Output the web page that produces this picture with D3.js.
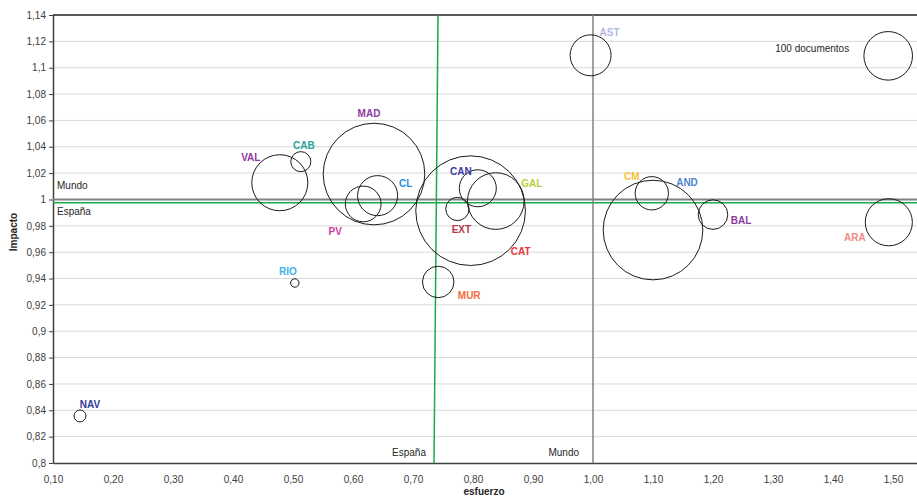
<!DOCTYPE html>
<html><head><meta charset="utf-8">
<script src="https://cdn.jsdelivr.net/npm/d3@7"></script>
<style>body{margin:0;background:#fff}svg{display:block;font-family:"Liberation Sans",Arial,sans-serif}</style>
</head><body>
<svg id="c" width="917" height="503"></svg>
<script>
// ---- data ----
const regions   = ["NAV","RIO","VAL","CAB","MAD","CL","PV","CAT","CAN","GAL","EXT","MUR","AST","CM","AND","BAL","ARA"];
const esfuerzo  = [0.145,0.503,0.478,0.513,0.635,0.641,0.617,0.796,0.808,0.838,0.774,0.742,0.996,1.098,1.100,1.200,1.493];
const impacto   = [0.8357,0.9366,1.0127,1.0287,1.0193,1.0029,0.9966,0.9915,1.0085,0.9988,0.9928,0.9374,1.1094,1.0047,0.9768,0.9885,0.9827];
const documentos= [6,3,133,17,437,68,54,509,58,136,23,42,71,47,420,37,94];
const refBubble = {label:"100 documentos", esfuerzo:1.492, impacto:1.109, documentos:100};
const mundo  = {esfuerzo:1.0, impacto:1.0};
const espana = {esfuerzoTop:0.7417, esfuerzoBottom:0.735, impacto:0.9975};
const xTicks = [0.1,0.2,0.3,0.4,0.5,0.6,0.7,0.8,0.9,1.0,1.1,1.2,1.3,1.4,1.5];
const yTicks = d3.range(0,18).map(i => +(0.8 + i*0.02).toFixed(2));

// ---- styles / layout ----
const labelColors = {NAV:"#2e3a96",RIO:"#3cb4e6",VAL:"#8e3a9e",CAB:"#2aa39b",MAD:"#8e3a9e",CL:"#2a8fd6",PV:"#d23c9e",
  CAT:"#e8363c",CAN:"#3a3d9e",GAL:"#b5cf3a",EXT:"#b83a4a",MUR:"#ef6e3a",AST:"#b4b9e3",CM:"#f5c23a",AND:"#4f86d0",BAL:"#8a3a9e",ARA:"#f28a8a"};
const labelOffsets = {NAV:[10,-11],RIO:[-7,-12],VAL:[-29,-25],CAB:[3,-16],MAD:[-5,-61],CL:[28,-12],PV:[-28,28],CAT:[50,41],
  CAN:[-17,-17],GAL:[36,-18],EXT:[4,21],MUR:[31,14],AST:[19,-23],CM:[-20,-17],AND:[34,-48],BAL:[28,6],ARA:[-34,15]};

const svg = d3.select("#c");
const pL = 53, pR = 917, pT = 15, pB = 463;
const x = d3.scaleLinear().domain([0.1,1.54]).range([pL,pR]);
const y = d3.scaleLinear().domain([0.8,1.14]).range([pB,pT]);
const r = d3.scaleSqrt().domain([0,100]).range([0,24.3]);
const fmtY = d => String(+d.toFixed(2)).replace(".",",");
const fmtX = d => d.toFixed(2).replace(".",",");

// gridlines
svg.append("g").selectAll("line").data(yTicks.filter(d=>d>0.8 && d<1.14)).join("line")
  .attr("x1",pL).attr("x2",pR).attr("y1",d=>y(d)).attr("y2",d=>y(d))
  .attr("stroke","#d9d9d9").attr("stroke-width",1);

// axes
const yAxis = svg.append("g").attr("transform",`translate(${pL},0)`)
  .call(d3.axisLeft(y).tickValues(yTicks).tickFormat(fmtY).tickSize(4).tickSizeOuter(0).tickPadding(3));
yAxis.select(".domain").attr("stroke","#404040").attr("stroke-width",1.5);
yAxis.selectAll(".tick line").attr("stroke","#404040");
yAxis.selectAll("text").attr("font-size",10).attr("fill","#404040").attr("font-family","Liberation Sans, Arial, sans-serif");

const xAxis = svg.append("g").attr("transform",`translate(0,${pB})`)
  .call(d3.axisBottom(x).tickValues(xTicks).tickFormat(fmtX).tickSize(0).tickSizeOuter(0).tickPadding(13));
xAxis.select(".domain").attr("stroke","#404040").attr("stroke-width",1.5);
xAxis.selectAll("text").attr("font-size",10).attr("fill","#404040").attr("font-family","Liberation Sans, Arial, sans-serif");

// top border
svg.append("line").attr("x1",pL).attr("x2",pR).attr("y1",pT).attr("y2",pT).attr("stroke","#222").attr("stroke-width",1.5);

// reference lines
svg.append("line").attr("x1",pL).attr("x2",pR).attr("y1",y(mundo.impacto)).attr("y2",y(mundo.impacto))
  .attr("stroke","#808080").attr("stroke-width",2);
svg.append("line").attr("x1",pL).attr("x2",pR).attr("y1",y(espana.impacto)).attr("y2",y(espana.impacto))
  .attr("stroke","#1aaa4a").attr("stroke-width",1.3);
svg.append("line").attr("x1",x(mundo.esfuerzo)).attr("x2",x(mundo.esfuerzo)).attr("y1",pT).attr("y2",pB)
  .attr("stroke","#808080").attr("stroke-width",1.5);
svg.append("line").attr("x1",x(espana.esfuerzoTop)).attr("x2",x(espana.esfuerzoBottom)).attr("y1",pT).attr("y2",pB)
  .attr("stroke","#1aaa4a").attr("stroke-width",1.5);

const txt = (t,xx,yy,anchor) => svg.append("text").text(t).attr("x",xx).attr("y",yy)
  .attr("font-size",10).attr("fill","#262626").attr("text-anchor",anchor||"start");
txt("Mundo",57,189);
txt("España",57,215);
txt("España",x(espana.esfuerzoBottom)-8,456,"end");
txt("Mundo",x(mundo.esfuerzo)-14,456,"end");

// bubbles
const data = regions.map((k,i)=>({k,ex:esfuerzo[i],im:impacto[i],doc:documentos[i]}));
svg.append("g").selectAll("circle").data(data).join("circle")
  .attr("cx",d=>x(d.ex)).attr("cy",d=>y(d.im)).attr("r",d=>r(d.doc))
  .attr("fill","none").attr("stroke","#1a1a1a").attr("stroke-width",1);
svg.append("g").selectAll("text").data(data).join("text")
  .attr("x",d=>x(d.ex)+labelOffsets[d.k][0]).attr("y",d=>y(d.im)+labelOffsets[d.k][1])
  .attr("dy","0.35em").attr("text-anchor","middle").attr("font-size",10).attr("font-weight","bold")
  .attr("fill",d=>labelColors[d.k]).text(d=>d.k);

// reference bubble
svg.append("circle").attr("cx",x(refBubble.esfuerzo)).attr("cy",y(refBubble.impacto)).attr("r",r(refBubble.documentos))
  .attr("fill","none").attr("stroke","#1a1a1a").attr("stroke-width",1);
txt(refBubble.label,x(refBubble.esfuerzo)-39,y(refBubble.impacto)-4,"end");

// axis titles
svg.append("text").text("esfuerzo").attr("x",484).attr("y",495).attr("text-anchor","middle")
  .attr("font-size",10).attr("font-weight","bold").attr("fill","#262626");
svg.append("text").text("Impacto").attr("transform","translate(17,232) rotate(-90)").attr("text-anchor","middle")
  .attr("font-size",10).attr("font-weight","bold").attr("fill","#262626");
</script>
</body></html>
